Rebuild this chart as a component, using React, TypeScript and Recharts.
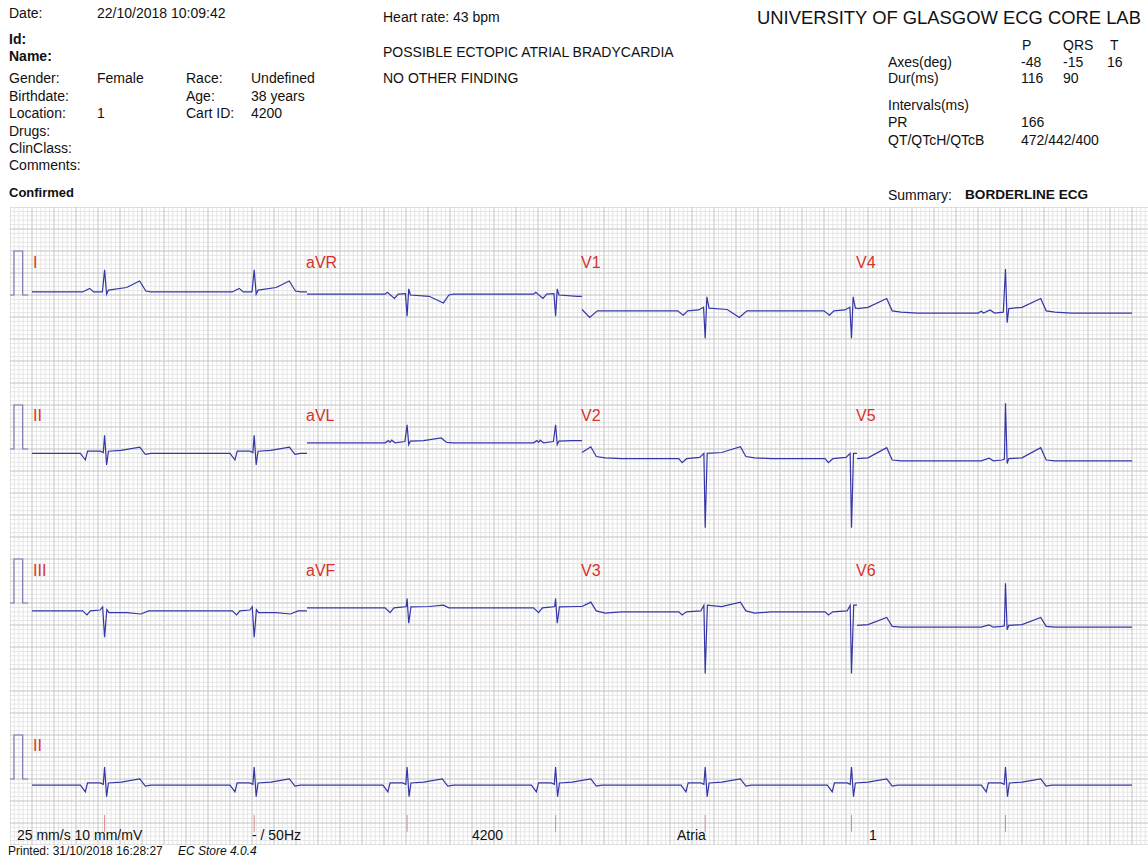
import React from "react";
import { LineChart, Line, XAxis, YAxis, ReferenceLine } from "recharts";

// paper: 25 mm/s, 10 mm/mV, 1 mm = 4.4 px
const PX_PER_SEC = 110;
const PX_PER_MV = 44;
const GRID_LEFT = 10;
const GRID_TOP = 207;
const GRID_W = 1138;
const GRID_H = 638;
const T_MIN = -0.2;
const T_MAX = T_MIN + GRID_W / PX_PER_SEC;
const MV_MAX = GRID_H / PX_PER_MV;

const TRACE = "#3636a6";
const PULSE = "#7a7ab4";
const LABEL_RED = "#d5332c";
const FONT = "'Liberation Sans', Arial, sans-serif";

// R-peak times (s)
const BEAT_TIMES = [0.66, 2.02, 3.41, 4.76, 6.12, 7.45, 8.85];
const COLUMN_STARTS = [0, 2.5, 5, 7.5];
const COLUMN_LEN = 2.5;
const RHYTHM_END = 10;

// calibration pulse (s, mV)
const PULSE_T = [-0.2, -0.164, -0.164, -0.085, -0.085, -0.036];
const PULSE_MV = [0, 0, 1, 1, 0, 0];
const ROW_PULSE_BASE = [12.5, 9, 5.5, 1.5];

// beat shapes: [seconds from R, mV above baseline]
const BEAT_I = [[-0.2, 0], [-0.136, 0.08], [-0.1, 0], [-0.02, 0], [0, 0.5], [0.018, -0.05], [0.035, 0.04], [0.2, 0.1], [0.318, 0.25], [0.375, 0.02], [0.42, 0]];
const BEAT_AVR = [[-0.2, 0], [-0.18, 0.04], [-0.115, -0.1], [-0.08, 0], [-0.015, 0.01], [0, -0.5], [0.015, 0.12], [0.03, -0.02], [0.2, -0.05], [0.33, -0.2], [0.38, -0.02], [0.42, 0]];
const BEAT_V1 = [[-0.25, 0], [-0.2, -0.1], [-0.16, 0], [-0.06, 0.02], [-0.015, 0.08], [0, -0.62], [0.015, 0.32], [0.035, 0.06], [0.2, 0.03], [0.31, -0.15], [0.38, 0], [0.42, 0]];
const BEAT_V4 = [[-0.25, 0], [-0.22, 0.04], [-0.2, 0], [-0.14, 0.07], [-0.1, 0], [-0.02, 0.02], [0, 1.0], [0.015, -0.22], [0.03, 0.1], [0.15, 0.13], [0.32, 0.33], [0.37, 0.05], [0.45, 0.02], [0.6, 0]];
const BEAT_II = [[-0.22, 0], [-0.175, -0.15], [-0.155, 0.05], [-0.04, 0.05], [-0.012, 0.02], [0, 0.41], [0.018, -0.26], [0.035, 0.05], [0.15, 0.07], [0.32, 0.14], [0.37, -0.02], [0.42, 0]];
const BEAT_AVL = [[-0.2, 0], [-0.17, 0.05], [-0.155, 0.01], [-0.14, 0.06], [-0.11, 0], [-0.02, 0.03], [0, 0.41], [0.015, -0.04], [0.03, 0.04], [0.15, 0.05], [0.31, 0.11], [0.36, 0.01], [0.42, 0]];
const BEAT_V2 = [[-0.24, 0], [-0.21, -0.09], [-0.17, 0], [-0.05, 0.03], [-0.012, 0.12], [0, -1.57], [0.018, 0.12], [0.15, 0.14], [0.32, 0.27], [0.37, 0.05], [0.45, 0.02], [0.6, 0]];
const BEAT_V5 = [[-0.22, 0], [-0.15, 0.06], [-0.11, 0], [-0.03, 0.02], [-0.01, 0.04], [0, 1.31], [0.015, -0.06], [0.03, 0.05], [0.15, 0.07], [0.32, 0.3], [0.37, 0.02], [0.45, 0]];
const BEAT_III = [[-0.2, 0], [-0.16, -0.09], [-0.13, 0], [-0.04, 0.02], [-0.018, 0.09], [0, -0.6], [0.02, 0.03], [0.04, -0.04], [0.2, -0.04], [0.33, -0.07], [0.4, 0], [0.45, 0]];
const BEAT_AVF = [[-0.2, 0], [-0.155, -0.11], [-0.12, 0], [-0.03, 0.02], [-0.008, 0.03], [0, 0.21], [0.015, -0.35], [0.035, 0.02], [0.2, 0.03], [0.33, 0.06], [0.38, 0], [0.45, 0]];
const BEAT_V3 = [[-0.24, 0], [-0.21, -0.07], [-0.17, 0], [-0.04, 0.02], [-0.012, 0.15], [0, -1.4], [0.02, 0.15], [0.15, 0.12], [0.32, 0.22], [0.37, 0.02], [0.45, -0.03], [0.6, 0]];
const BEAT_V6 = [[-0.22, 0], [-0.15, 0.05], [-0.11, 0], [-0.03, 0.02], [-0.01, 0.03], [0, 1.0], [0.015, -0.06], [0.03, 0.04], [0.15, 0.06], [0.32, 0.22], [0.37, 0.02], [0.45, 0]];

const LEAD_NAMES = ["I", "aVR", "V1", "V4", "II", "aVL", "V2", "V5", "III", "aVF", "V3", "V6"];
const LEAD_BEATS = [BEAT_I, BEAT_AVR, BEAT_V1, BEAT_V4, BEAT_II, BEAT_AVL, BEAT_V2, BEAT_V5, BEAT_III, BEAT_AVF, BEAT_V3, BEAT_V6];
// baseline of each lead on the paper (mV from grid bottom)
const LEAD_BASE = [12.57, 12.52, 12.14, 12.09, 8.9, 9.14, 8.78, 8.73, 5.32, 5.39, 5.3, 4.95];
const RHYTHM_BASE = 1.36;
const ROW_LABEL_Y = [263, 416, 571, 746];

// rhythm strip beat markers (mV from grid bottom)
const MARK_LOW = 0.3;
const MARK_HIGH = 0.68;

type Pt = { t: number; v: number };

function buildTrace(beat: number[][], base: number, t0: number, t1: number): Pt[] {
  const full: Pt[] = [{ t: -1, v: base }];
  BEAT_TIMES.forEach((b) => beat.forEach(([dt, mv]) => full.push({ t: b + dt, v: base + mv })));
  full.push({ t: 11, v: base });
  let startV = base;
  let endV = base;
  full.forEach((p) => {
    if (p.t <= t0) startV = p.v;
    if (p.t <= t1) endV = p.v;
  });
  const inner = full.filter((p) => p.t > t0 && p.t < t1);
  return [{ t: t0, v: startV }, ...inner, { t: t1, v: endV }];
}

const pulseData = (base: number): Pt[] => PULSE_T.map((t, i) => ({ t, v: base + PULSE_MV[i] }));

const leads = LEAD_NAMES.map((name, i) => {
  const row = Math.floor(i / 4);
  const col = i % 4;
  const t0 = COLUMN_STARTS[col];
  return { name, row, col, data: buildTrace(LEAD_BEATS[i], LEAD_BASE[i], t0, t0 + COLUMN_LEN) };
});
const rhythm = buildTrace(BEAT_II, RHYTHM_BASE, 0, RHYTHM_END);

const gridX = Array.from({ length: Math.floor(GRID_W / 4.4) + 1 }, (_, i) => i);
const gridY = Array.from({ length: Math.round(GRID_H / 4.4) + 1 }, (_, i) => i);

function Txt({ x, y, size = 14, bold, italic, color = "#111", children }: any) {
  return (
    <div
      style={{
        position: "absolute",
        left: x,
        top: y - size / 2,
        fontSize: size,
        lineHeight: `${size}px`,
        fontWeight: bold ? 700 : 400,
        fontStyle: italic ? "italic" : "normal",
        color,
        whiteSpace: "nowrap",
        fontFamily: FONT,
      }}
    >
      {children}
    </div>
  );
}

export default function App() {
  return (
    <div style={{ position: "absolute", left: 0, top: 0, width: 1148, height: 857, background: "#fff", overflow: "hidden" }}>
      <div style={{ position: "absolute", left: GRID_LEFT, top: GRID_TOP }}>
        <LineChart width={GRID_W} height={GRID_H} margin={{ top: 0, right: 0, bottom: 0, left: 0 }}>
          <XAxis type="number" dataKey="t" domain={[T_MIN, T_MAX]} allowDataOverflow hide />
          <YAxis type="number" domain={[0, MV_MAX]} allowDataOverflow hide />
          {gridX.filter((i) => i % 5 !== 0).map((i) => (
            <ReferenceLine key={`vx${i}`} x={T_MIN + i * 0.04} stroke="#e6e6e6" strokeWidth={1} />
          ))}
          {gridY.filter((i) => i % 5 !== 0).map((i) => (
            <ReferenceLine key={`hy${i}`} y={i * 0.1} stroke="#e6e6e6" strokeWidth={1} />
          ))}
          {gridX.filter((i) => i % 5 === 0).map((i) => (
            <ReferenceLine key={`VX${i}`} x={T_MIN + i * 0.04} stroke="#c4c4c4" strokeWidth={1} />
          ))}
          {gridY.filter((i) => i % 5 === 0).map((i) => (
            <ReferenceLine key={`HY${i}`} y={i * 0.1} stroke="#c4c4c4" strokeWidth={1} />
          ))}
          {BEAT_TIMES.map((b) => (
            <ReferenceLine
              key={`mk${b}`}
              segment={[{ x: b, y: MARK_LOW }, { x: b, y: MARK_HIGH }]}
              stroke="#d98a8a"
              strokeWidth={1}
            />
          ))}
          {ROW_PULSE_BASE.map((b, i) => (
            <Line key={`p${i}`} data={pulseData(b)} dataKey="v" type="linear" stroke={PULSE} strokeWidth={1.2} dot={false} isAnimationActive={false} />
          ))}
          {leads.map((l) => (
            <Line key={l.name} data={l.data} dataKey="v" type="linear" stroke={TRACE} strokeWidth={1.2} dot={false} isAnimationActive={false} />
          ))}
          <Line data={rhythm} dataKey="v" type="linear" stroke={TRACE} strokeWidth={1.2} dot={false} isAnimationActive={false} />
        </LineChart>
      </div>

      {leads.map((l) => (
        <Txt key={`lbl${l.name}`} x={32 + l.col * COLUMN_LEN * PX_PER_SEC - (l.col ? 1 : -1)} y={ROW_LABEL_Y[l.row]} size={16} color={LABEL_RED}>
          {l.name}
        </Txt>
      ))}
      <Txt x={33} y={ROW_LABEL_Y[3]} size={16} color={LABEL_RED}>II</Txt>

      <Txt x={9} y={13}>Date:</Txt>
      <Txt x={97} y={13}>22/10/2018 10:09:42</Txt>
      <Txt x={9} y={39} bold>Id:</Txt>
      <Txt x={9} y={56} bold>Name:</Txt>
      <Txt x={9} y={78}>Gender:</Txt>
      <Txt x={97} y={78}>Female</Txt>
      <Txt x={186} y={78}>Race:</Txt>
      <Txt x={251} y={78}>Undefined</Txt>
      <Txt x={9} y={96}>Birthdate:</Txt>
      <Txt x={186} y={96}>Age:</Txt>
      <Txt x={251} y={96}>38 years</Txt>
      <Txt x={9} y={113}>Location:</Txt>
      <Txt x={97} y={113}>1</Txt>
      <Txt x={186} y={113}>Cart ID:</Txt>
      <Txt x={251} y={113}>4200</Txt>
      <Txt x={9} y={131}>Drugs:</Txt>
      <Txt x={9} y={148}>ClinClass:</Txt>
      <Txt x={9} y={165}>Comments:</Txt>
      <Txt x={9} y={192} size={13} bold>Confirmed</Txt>

      <Txt x={383} y={17}>Heart rate: 43 bpm</Txt>
      <Txt x={383} y={52}>POSSIBLE ECTOPIC ATRIAL BRADYCARDIA</Txt>
      <Txt x={383} y={78}>NO OTHER FINDING</Txt>

      <Txt x={757} y={18} size={18.4}>UNIVERSITY OF GLASGOW ECG CORE LAB</Txt>
      <Txt x={1022} y={45}>P</Txt>
      <Txt x={1063} y={45}>QRS</Txt>
      <Txt x={1110} y={45}>T</Txt>
      <Txt x={888} y={62}>Axes(deg)</Txt>
      <Txt x={1021} y={62}>-48</Txt>
      <Txt x={1063} y={62}>-15</Txt>
      <Txt x={1107} y={62}>16</Txt>
      <Txt x={888} y={78}>Dur(ms)</Txt>
      <Txt x={1021} y={78}>116</Txt>
      <Txt x={1063} y={78}>90</Txt>
      <Txt x={888} y={105}>Intervals(ms)</Txt>
      <Txt x={888} y={122}>PR</Txt>
      <Txt x={1021} y={122}>166</Txt>
      <Txt x={888} y={140}>QT/QTcH/QTcB</Txt>
      <Txt x={1021} y={140}>472/442/400</Txt>
      <Txt x={888} y={195}>Summary:</Txt>
      <Txt x={965} y={195} size={13.6} bold>BORDERLINE ECG</Txt>

      <Txt x={17} y={835}>25 mm/s 10 mm/mV</Txt>
      <Txt x={252} y={835}>- / 50Hz</Txt>
      <Txt x={472} y={835}>4200</Txt>
      <Txt x={677} y={835}>Atria</Txt>
      <Txt x={869} y={835}>1</Txt>
      <Txt x={8} y={851} size={12}>Printed: 31/10/2018 16:28:27</Txt>
      <Txt x={178} y={851} size={12} italic>EC Store 4.0.4</Txt>
    </div>
  );
}
